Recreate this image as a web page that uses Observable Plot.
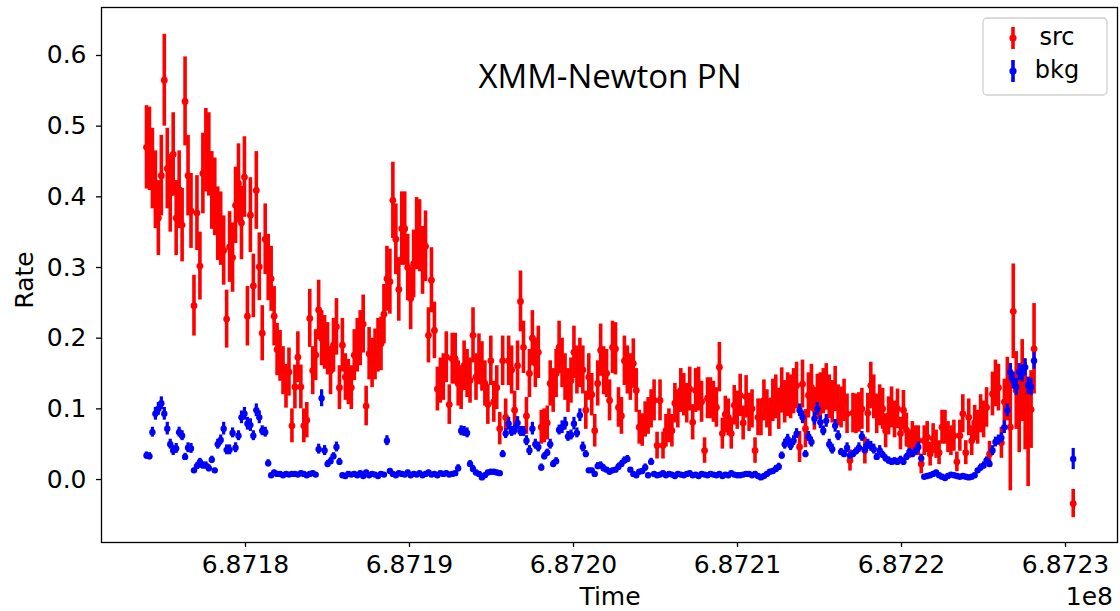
<!DOCTYPE html>
<html><head><meta charset="utf-8">
<script src="https://cdn.jsdelivr.net/npm/d3@7"></script>
<script src="https://cdn.jsdelivr.net/npm/@observablehq/plot@0.6"></script>
<style>
body{margin:0;background:#fff;}
#chart{width:1120px;height:611px;}
</style></head><body><div id="chart"></div>
<script>
// Light-curve bins (time in s, rates in thousandths of counts/s)
const tStart = 687173963;
const binSize = 181;
const srcRate = [
470,468,440,410,370,430,565,440,405,460,
370,410,360,535,430,380,246,377,302,433,
466,460,409,400,362,355,324,227,329,314,
388,419,363,428,231,374,274,409,301,207,
340,300,284,231,184,175,154,132,152,76,
131,173,131,76,84,228,154,176,240,200,
194,185,154,190,216,130,190,145,138,130,
176,190,200,220,104,178,165,177,190,192,
234,284,280,395,340,269,355,355,300,256,
305,348,345,310,330,204,282,211,128,140,
145,173,106,171,171,136,130,161,150,140,
204,145,170,160,136,106,168,110,130,72,
168,88,168,155,98,161,252,187,90,150,
200,165,180,74,76,80,136,126,150,187,
165,145,126,140,180,155,165,155,98,145,
120,69,136,183,154,150,112,187,185,102,
90,168,155,145,164,126,74,70,85,90,
100,112,48,112,48,69,76,69,108,100,
126,120,108,128,81,126,128,110,41,115,
115,110,102,159,65,92,88,65,105,98,
119,80,117,95,100,41,88,88,112,100,
88,112,117,100,126,110,120,117,125,133,
46,135,72,119,130,100,117,119,125,131,
117,110,128,105,102,112,93,27,94,93,
95,100,41,94,133,117,93,105,100,69,
90,102,85,100,65,98,70,50,60,55,
55,22,55,60,36,58,50,38,74,74,
60,55,62,25,62,93,38,88,55,80,
74,93,85,102,36,121,136,130,52,110,
128,74,238,126,98,140,104,60,99,185];
const srcErr = [
59,59,57,55,53,57,65,57,55,59,
53,55,52,63,57,53,43,53,48,57,
59,59,55,55,52,52,49,41,50,49,
54,56,52,57,42,53,45,55,48,39,
50,47,46,42,37,36,34,31,34,24,
31,36,31,24,25,41,34,36,42,39,
38,37,34,38,40,31,38,33,32,31,
36,38,39,41,28,37,35,36,38,38,
42,46,46,54,50,45,52,52,47,44,
48,51,51,48,50,39,46,40,31,32,
33,36,28,36,36,32,31,35,34,32,
39,33,36,35,32,28,35,29,31,23,
35,26,35,34,27,35,43,37,26,34,
39,35,37,24,24,24,32,31,34,37,
35,33,31,32,37,34,35,34,27,33,
30,23,32,37,34,34,29,37,37,28,
26,35,34,33,35,31,24,23,25,26,
27,29,19,29,19,23,24,23,28,27,
31,30,28,31,25,31,31,29,18,29,
29,29,28,35,22,26,26,22,28,27,
30,24,30,27,27,18,26,26,29,27,
27,30,31,29,32,30,31,31,32,33,
22,34,27,32,33,30,32,32,32,33,
31,30,32,29,29,30,28,15,28,28,
28,29,19,28,33,31,28,29,29,24,
27,29,26,28,23,28,24,20,22,21,
21,14,21,22,17,21,20,17,24,24,
22,21,22,14,22,27,17,26,21,25,
24,27,26,28,18,31,33,33,22,32,
45,90,67,55,60,58,62,70,55,64];
const bkgRate = [
34,33,67,93,100,108,93,72,50,41,
44,67,62,32,45,44,13,19,25,20,
20,16,28,13,50,56,72,42,42,66,
45,62,88,93,79,77,62,98,88,69,
67,23,6,10,8,8,6,8,7,8,
8,7,9,8,6,8,9,7,43,115,
41,22,26,33,46,25,6,5,8,7,
8,6,9,5,10,6,8,7,5,8,
7,55,12,8,6,9,8,7,10,6,
8,7,9,6,8,10,7,8,6,9,
8,9,7,8,9,16,69,68,66,22,
15,10,8,3,6,10,11,11,10,9,
36,65,79,68,70,80,68,68,55,41,
72,50,46,17,33,38,50,22,26,70,
74,79,61,63,79,66,91,46,36,13,
13,8,19,20,16,14,11,13,14,18,
22,27,29,14,8,6,11,12,17,6,
25,8,6,7,9,6,8,7,5,8,
7,6,8,9,6,7,5,8,7,6,
8,7,6,8,5,7,6,9,7,6,
6,7,8,8,6,8,5,3,5,8,
11,12,15,18,34,50,57,48,55,65,
98,88,36,61,53,86,100,81,69,83,
50,43,76,62,39,36,45,34,36,40,
45,61,43,50,47,43,32,41,35,30,
27,25,26,25,28,25,32,39,36,40,
46,30,4,5,6,8,10,6,4,2,
5,7,6,5,4,5,4,3,4,6,
13,17,20,27,22,41,53,56,59,74,
98,152,140,131,152,150,159,133,131,168];
const bkgErr = [
5,5,7,9,9,9,9,9,7,7,
7,7,7,5,7,7,3,5,5,5,
5,5,5,3,7,7,9,7,7,7,
7,7,9,9,9,9,7,9,9,7,
7,5,3,3,3,3,3,3,3,3,
3,3,3,3,3,3,3,3,7,12,
7,5,5,5,7,5,3,3,3,3,
3,3,3,3,3,3,3,3,3,3,
3,7,3,3,3,3,3,3,3,3,
3,3,3,3,3,3,3,3,3,3,
3,3,3,3,3,5,7,7,7,5,
5,3,3,3,3,3,3,3,3,3,
5,7,9,7,7,9,7,7,7,7,
9,7,7,5,5,5,7,5,5,7,
9,9,7,7,9,7,9,7,5,3,
3,3,5,5,5,3,3,3,3,5,
5,5,5,3,3,3,3,3,5,3,
5,3,3,3,3,3,3,3,3,3,
3,3,3,3,3,3,3,3,3,3,
3,3,3,3,3,3,3,3,3,3,
3,3,3,3,3,3,3,3,3,3,
3,3,5,5,5,7,7,7,7,7,
9,9,5,7,7,9,9,9,7,9,
7,7,9,7,5,5,7,5,5,5,
7,7,7,7,7,7,5,7,5,5,
5,5,5,5,5,5,5,5,5,5,
7,5,3,3,3,3,3,3,3,3,
3,3,3,3,3,3,3,3,3,3,
3,5,5,5,5,7,7,7,7,9,
9,12,12,12,12,12,12,12,12,12];
// Separate last bin
const lateTime = [687230470];
const lateSrcRate = [-34];
const lateSrcErr = [20];
const lateBkgRate = [29];
const lateBkgErr = [15];

const xTicks = [687180000, 687190000, 687200000, 687210000, 687220000, 687230000];
const yTicks = [0, 0.1, 0.2, 0.3, 0.4, 0.5, 0.6];
const seriesNames = ["src", "bkg"];
const seriesColors = ["#ff0000", "#0000ff"];
const titleText = "XMM-Newton PN";
const xLabel = "Time";
const yLabel = "Rate";
const xOffsetText = "1e8";

function build(rates, errs, lateR, lateE) {
  const rows = rates.map((v, i) => ({t: tStart + i * binSize, v: v / 1000, e: errs[i] / 1000}));
  lateTime.forEach((t, i) => rows.push({t, v: lateR[i] / 1000, e: lateE[i] / 1000}));
  rows.forEach(d => { d.lo = d.v - d.e; d.hi = d.v + d.e; });
  return rows;
}
const src = build(srcRate, srcErr, lateSrcRate, lateSrcErr);
const bkg = build(bkgRate, bkgErr, lateBkgRate, lateBkgErr);

const plot = Plot.plot({
  width: 1120, height: 611,
  marginLeft: 101, marginRight: 3, marginTop: 7, marginBottom: 69,
  style: {fontFamily: "DejaVu Sans", fontSize: "25px", color: "#000", background: "#fff"},
  x: {domain: [687171220, 687233170]},
  y: {domain: [-0.0891, 0.6679]},
  marks: [
    Plot.axisX({ticks: xTicks, tickFormat: d => (d / 1e8).toFixed(4), tickSize: 5, tickPadding: 8, label: null, strokeWidth: 1.3, fontSize: 25}),
    Plot.axisY({ticks: yTicks, tickFormat: d => d.toFixed(1), tickSize: 5, tickPadding: 10, label: null, strokeWidth: 1.3, fontSize: 25}),
    Plot.ruleX(src, {x: "t", y1: "lo", y2: "hi", stroke: seriesColors[0], strokeWidth: 3.6}),
    Plot.dot(src, {x: "t", y: "v", r: 3.4, fill: seriesColors[0]}),
    Plot.ruleX(bkg, {x: "t", y1: "lo", y2: "hi", stroke: seriesColors[1], strokeWidth: 3.2}),
    Plot.dot(bkg, {x: "t", y: "v", r: 3.2, fill: seriesColors[1]}),
    Plot.frame({stroke: "#000", strokeWidth: 1.3})
  ]
});
document.getElementById("chart").appendChild(plot);

const svg = d3.select(plot);
const ff = "DejaVu Sans";
svg.append("text").attr("x", 610).attr("y", 605).attr("text-anchor", "middle")
  .attr("font-family", ff).attr("font-size", 25).attr("fill", "#000").text(xLabel);
svg.append("text").attr("x", 1113).attr("y", 605).attr("text-anchor", "end")
  .attr("font-family", ff).attr("font-size", 25).attr("fill", "#000").text(xOffsetText);
svg.append("text").attr("transform", "translate(33,280) rotate(-90)").attr("text-anchor", "middle")
  .attr("font-family", ff).attr("font-size", 25).attr("fill", "#000").text(yLabel);
svg.append("text").attr("x", 610).attr("y", 88).attr("text-anchor", "middle")
  .attr("font-family", "Open Sans").attr("font-size", 33).attr("fill", "#000").text(titleText);

// Legend
const lg = svg.append("g");
lg.append("rect").attr("x", 983).attr("y", 18).attr("width", 124).attr("height", 77).attr("rx", 4)
  .attr("fill", "#fff").attr("fill-opacity", 0.8).attr("stroke", "#d0d0d0").attr("stroke-width", 1.3);
seriesNames.forEach((name, i) => {
  const cy = 38 + i * 33;
  lg.append("line").attr("x1", 1013).attr("x2", 1013).attr("y1", cy - 11).attr("y2", cy + 11)
    .attr("stroke", seriesColors[i]).attr("stroke-width", 3.6);
  lg.append("circle").attr("cx", 1013).attr("cy", cy).attr("r", 3.6).attr("fill", seriesColors[i]);
  lg.append("text").attr("x", 1057).attr("y", cy + 7).attr("font-family", ff).attr("font-size", 24)
    .attr("fill", "#000").text(name);
});
</script>
</body></html>
